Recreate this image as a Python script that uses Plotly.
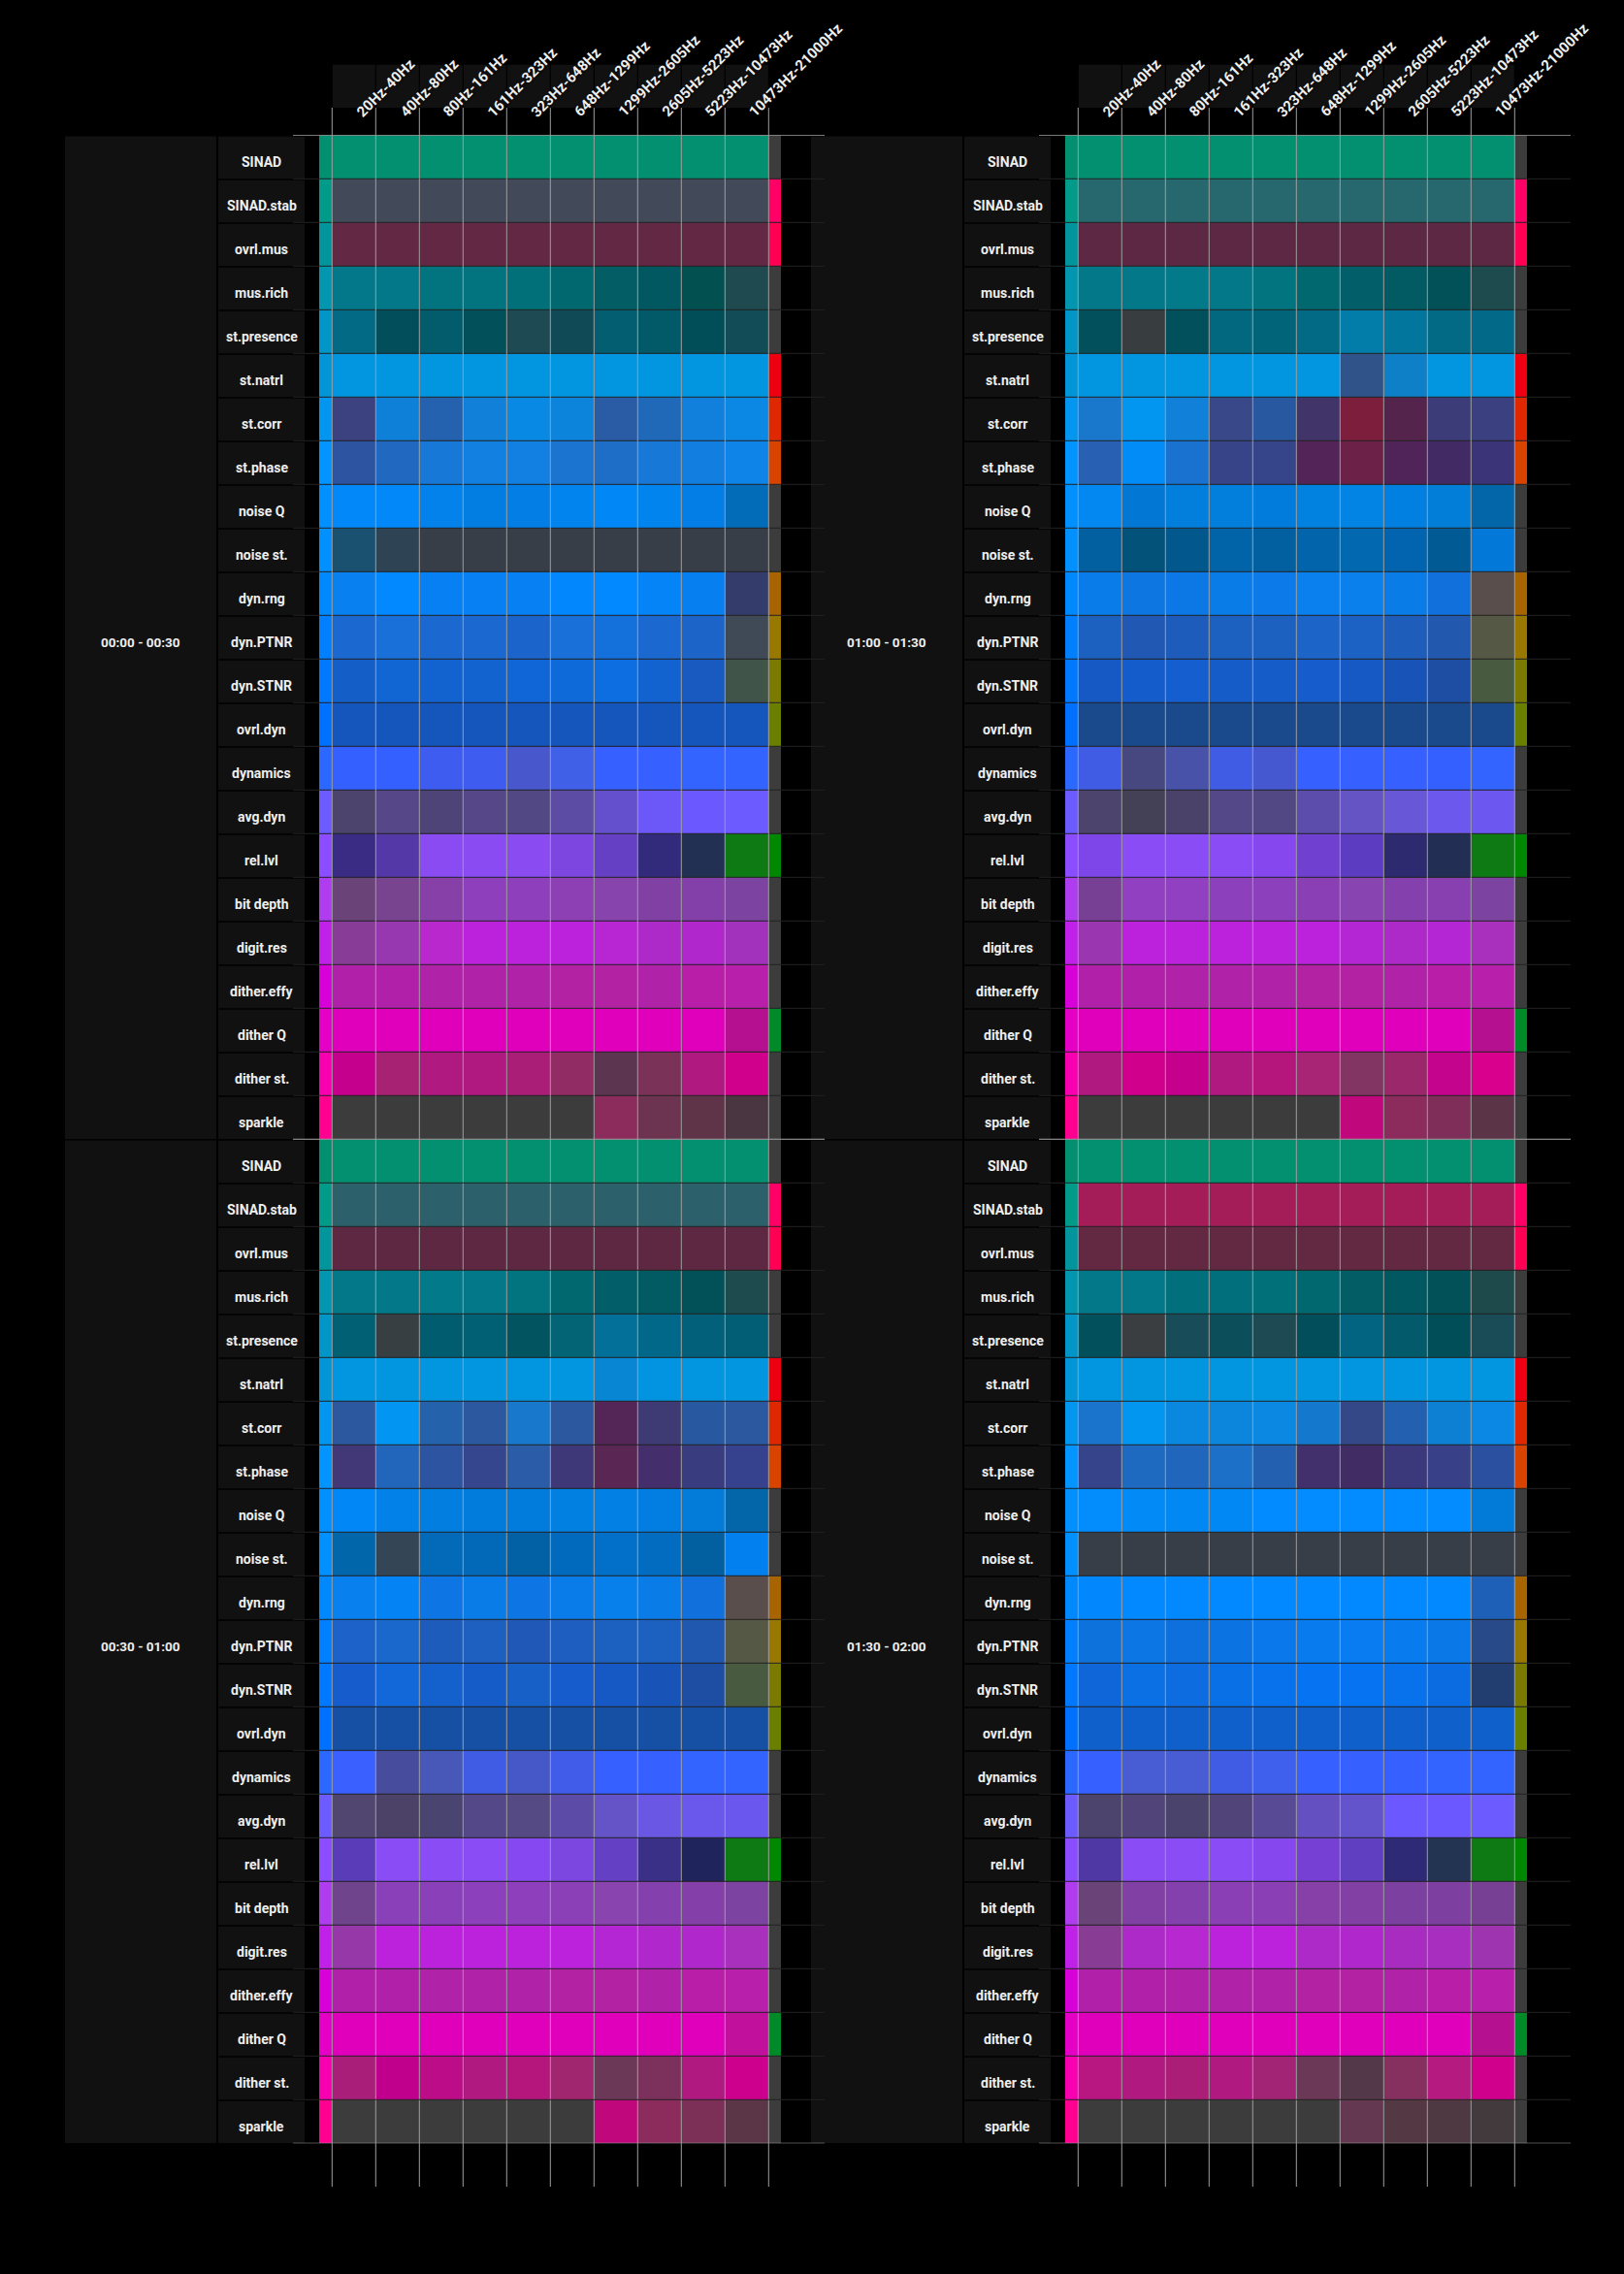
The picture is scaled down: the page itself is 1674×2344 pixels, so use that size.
import plotly.graph_objects as go

W, H = 1674, 2344

ROW_LABELS = ["SINAD", "SINAD.stab", "ovrl.mus", "mus.rich", "st.presence", "st.natrl",
              "st.corr", "st.phase", "noise Q", "noise st.", "dyn.rng", "dyn.PTNR",
              "dyn.STNR", "ovrl.dyn", "dynamics", "avg.dyn", "rel.lvl", "bit depth",
              "digit.res", "dither.effy", "dither Q", "dither st.", "sparkle"]

FREQ_LABELS = ["20Hz-40Hz", "40Hz-80Hz", "80Hz-161Hz", "161Hz-323Hz", "323Hz-648Hz",
               "648Hz-1299Hz", "1299Hz-2605Hz", "2605Hz-5223Hz", "5223Hz-10473Hz",
               "10473Hz-21000Hz"]

PANEL_TITLES = ["00:00 - 00:30", "00:30 - 01:00", "01:00 - 01:30", "01:30 - 02:00"]

# narrow leading strip (one colour per metric row)
ROW_HUE = ["029070", "029a88", "02969c", "0296b0", "0296c8", "0296d8", "0296f0", "0294ff",
           "0090ff", "0090ff", "0088ff", "0080ff", "0078ff", "0070ff", "2a68ff", "6c5cff",
           "8c4cff", "b03cf0", "c020e8", "d800d8", "e400c4", "f800b0", "ff0090"]

# trailing flag strip (one colour per metric row)
ROW_FLAG = ["3c3c3c", "ff0066", "ff0055", "3c3c3c", "3c3c3c", "ee0010", "e02800", "d84400",
            "3c3c3c", "3c3c3c", "a86400", "987800", "7a7a00", "6a7e00", "3c3c3c", "3c3c3c",
            "008800", "3c3c3c", "3c3c3c", "3c3c3c", "008a28", "3c3c3c", "3c3c3c"]

CELLS_0000 = [
    "029070 029070 029070 029070 029070 029070 029070 029070 029070 029070",
    "424a5a 424a5a 424a5a 424a5a 424a5a 424a5a 424a5a 424a5a 424a5a 424a5a",
    "632843 632843 632843 632843 632843 632843 632843 632843 632843 632843",
    "02788a 027888 027480 027480 027078 026870 025e64 025860 025050 1e4a50",
    "026a84 024e5a 025c6c 02505a 1e4a54 104a56 025e70 025a68 024e58 124c56",
    "0296e0 0296e0 0296e0 0296e0 0296e0 0296e0 0296e0 0296e0 0296e0 0296e0",
    "3c4280 0e80d8 2462b0 1080d8 088ae4 0c84dc 2a5ca6 2068b8 1080dc 0a88e4",
    "2c54a0 2068c0 1878d8 1280e0 1280e2 1a74d0 1e6ec8 1878d8 127ee0 0e84e8",
    "0288f8 0288f8 0282ea 027ee2 027ee4 0284ee 0288f6 0284ee 027ee6 026cb8",
    "1a5070 2e4455 383e48 383e48 383e48 383e48 383e48 383e48 383e48 383e48",
    "0880f0 0288ff 0680f2 0680f2 0680f2 0288fc 0288ff 0484f6 0680f0 343c6c",
    "1a68d0 1870d8 1a68d0 1a68d0 1a64cc 1870d8 1470da 1a68d0 1c64c8 404a56",
    "145ec8 1266d4 1262d0 1262d0 1066d6 0e6ad8 0c6ee0 1262d0 185ac0 40544a",
    "1456bc 1456bc 1456bc 1456bc 1456bc 1456bc 1456bc 1456bc 1456bc 1456bc",
    "3460ff 3460ff 3e5cf0 3e5cf0 4858cc 4060e8 3660ff 3660ff 3464ff 3464ff",
    "4c446c 564888 4e4478 564888 524884 5c4ca4 6450cc 6c58f8 6c58ff 6c5cff",
    "3a2c84 5438a8 8a4cf2 8a4cf2 8a4cf0 7e46e0 6640c4 322a7a 223054 0e7a14",
    "6a4478 784490 8640a8 8e40bc 8e40bc 8c40b4 8644ac 8040a4 8240a8 7c44a0",
    "883c98 9838b0 b828cc bc22dc bc22dc bc22dc b826d4 ae2ac8 b028cc a232bc",
    "b020a8 b020a8 b022a8 b022a8 b022a8 b422a4 b422a4 b022a8 b81ea8 b820ac",
    "e000bc e000bc e000bc e000bc e000bc e000bc e000bc e000bc e000bc b41090",
    "c4008c a82274 b01a80 b01a80 aa1e78 922c64 5c3650 7a3258 b01a80 d0008c",
    "3c3c3c 3c3c3c 3c3c3c 3c3c3c 3c3c3c 3c3c3c 8c2c5c 6c3450 603448 4a3640",
]

CELLS_0030 = [
    "029070 029070 029070 029070 029070 029070 029070 029070 029070 029070",
    "2c606a 2c606a 2c606a 2c606a 2c606a 2c606a 2c606a 2c606a 2c606a 2c606a",
    "5e2842 5e2842 5e2842 5e2842 5e2842 5e2842 5e2842 5e2842 5e2842 5e2842",
    "027888 027888 027a8a 027888 027480 026870 025e68 025a62 025058 1e4c4e",
    "026074 383f42 025c70 026074 025460 026474 027098 02688a 02607a 025e74",
    "0296e0 0296e0 0296e0 0296e0 0296e0 0296e0 0886d4 0294e0 0296e0 0296e0",
    "2c58a0 0296f2 2462ac 2c58a0 1878cc 2c58a0 542658 3e3a74 2858a0 2c58a0",
    "423878 2266bc 2c54a0 36468e 2a5ca8 3e3878 5a2654 442e6c 3a3c80 36428e",
    "0288f6 0282e8 027ee0 027cdc 027cdc 0280e2 0280e4 027ee2 027cd8 0266a8",
    "0266aa 344656 026ab8 0268b8 0260a4 026abc 0270c8 026cc0 0260a0 0280f0",
    "0880ee 0484f4 0e76e4 0a7ce8 0e76e4 0a7cea 0880ec 0a7ce8 1270dc 5a4e4c",
    "1c62c8 1a68cc 1e5cbc 1e60c0 2058b8 1e5ec0 1c60c0 1c60c0 2058b0 545844",
    "165ccc 1268d8 1460cc 165cc8 1660c8 165ccc 1658c4 1854b8 1e4ea4 485a40",
    "1650a4 1650a4 1650a4 1650a4 1650a4 1650a4 1650a4 1650a4 1650a4 1650a4",
    "3a60ff 484c9c 4858b8 405ce4 4658c8 405ce8 3660ff 3660ff 3464ff 3464ff",
    "504670 4c4268 4a4470 544888 564a84 5c4ca8 6454c8 6a58e4 6a58ec 6a58ee",
    "5a3cb8 8a4cf4 8a4cf4 8a4cf4 8648f0 7c46e0 6440c4 3a3088 20245c 0e7a14",
    "70448c 8a40b8 8a40b8 8c40bc 8e40bc 8c40b8 8a44b0 8440ac 8440a8 7c44a0",
    "9638a8 bc22dc bc22dc bc22dc bc22dc bc22dc b426d4 b028cc b028cc a830bc",
    "b020a8 b020a8 b022a8 b022a8 b022a8 b422a4 b422a4 b022a8 b81ea8 b820ac",
    "e000bc e000bc e000bc e000bc e000bc e000bc e000bc e000bc e000bc c0109c",
    "a81e78 c0008c bc0c88 b01a80 b4167c a02670 6c3858 7c305c b01a80 cc008c",
    "3c3c3c 3c3c3c 3c3c3c 3c3c3c 3c3c3c 3c3c3c c0087c 8c2c5c 7c3058 5a3646",
]

CELLS_0100 = [
    "029070 029070 029070 029070 029070 029070 029070 029070 029070 029070",
    "26686e 26686e 26686e 26686e 26686e 26686e 26686e 26686e 26686e 26686e",
    "5c2844 5c2844 5c2844 5c2844 5c2844 5c2844 5c2844 5c2844 5c2844 5c2844",
    "027888 027888 027a8a 027888 027480 026870 025e68 025a62 025058 1e4c4e",
    "02505c 383e40 02505c 026880 026478 026a84 027ca8 02769c 026a84 026a88",
    "0296e0 0296e0 0296e0 0296e0 0296e0 0296e0 30548a 0e80c8 0296e0 0296e0",
    "1a78cc 0296f0 1080d8 384888 2858a0 403468 7c1e3c 54244c 3c3c78 3a4080",
    "2860b4 028cf8 1a72d0 384488 36448a 522458 6c2248 502458 422a64 3c3478",
    "0288f0 0278d4 027edc 027edc 027cdc 0282e0 0284e4 0280e2 027ed8 0266a8",
    "0260a0 02527a 02588c 0264a8 0260a0 0264aa 0268b0 0264ae 025a94 0278d8",
    "0a7cea 0e76e0 0c78e6 0a7ce8 0c7ae8 0a80ee 0a80ec 0a7ce8 1270dc 5a4e4c",
    "1c60c0 2058b4 1e5cbc 1c60c0 1c60c0 1c64c8 1c62c4 1e5eba 2258ae 545844",
    "1658c4 145ccc 145ed0 165cc8 165cc8 165ccc 1658c4 1854b8 1e4ea4 485a40",
    "1a4a8c 1a4a8c 1a4a8c 1a4a8c 1a4a8c 1a4a8c 1a4a8c 1a4a8c 1a4a8c 1a4a8c",
    "405ce4 484880 4852a8 405ce4 4658d0 3660ff 3660ff 3660ff 3460ff 3464ff",
    "4c446c 444056 4a4268 544888 524884 5c4cac 6454c4 6858d8 6c58ec 6c58f0",
    "7e46e8 8a4cf4 8a4cf4 8a4cf4 8648ee 7040d0 5c3cc0 2e2a70 222e54 0e7a14",
    "784094 9040c0 9040c0 8c40bc 8c40bc 8a40b4 8844b0 8440ac 8840b0 7c44a0",
    "9a36b0 bc22dc bc22dc bc22dc bc22dc bc22dc b426d4 ae2ac8 b426d4 a830bc",
    "b020a8 b020a8 b022a8 b022a8 b022a8 b422a4 b422a4 b022a8 b81ea8 b820ac",
    "e000bc e000bc e000bc e000bc e000bc e000bc e000bc e000bc e000bc b41090",
    "b01a80 d0008c c4008c b01a80 b4167c a82474 823462 9c286c c4048c d8008c",
    "3c3c3c 3c3c3c 3c3c3c 3c3c3c 3c3c3c 3c3c3c c0087c 8c2c5c 7e2e58 5c3448",
]

CELLS_0130 = [
    "029070 029070 029070 029070 029070 029070 029070 029070 029070 029070",
    "a41c58 a41c58 a41c58 a41c58 a41c58 a41c58 a41c58 a41c58 a41c58 a41c58",
    "632842 632842 632842 632842 632842 632842 632842 632842 632842 632842",
    "027888 027888 02707c 02707c 027078 026870 025e64 025860 025058 1e4a4c",
    "02505c 3a3e40 184c58 0c4e5a 1e4a54 024e5a 026480 025a6a 024e58 1a4c58",
    "0296e0 0296e0 0296e0 0296e0 0296e0 0296e0 0296e0 0296e0 0296e0 0296e0",
    "1a74cc 0296f0 0a88e0 0c86dc 0a88e2 1478cc 344888 2460b0 0e80d4 0a88e4",
    "36448c 1e6ac0 2066bc 1c70c8 2460b0 42306c 422c64 3c387c 384088 2c50a0",
    "028cfc 028af6 0288f2 0288f4 028aff 028cff 028cff 028cff 028cff 027ad8",
    "383e48 383e48 383e48 383e48 383e48 383e48 383e48 383e48 383e48 383e48",
    "0288fc 0288ff 0288ff 0288ff 0288ff 0288ff 0288ff 0288ff 0288ff 1e60b8",
    "0e72dc 0c76e4 0e70dc 0c74e2 0a78ea 087cee 087cf0 087cee 0a78e6 284a88",
    "0e66d8 0a70e4 0c6ce0 0a70e6 0872ec 0674f2 0674f2 0872ec 0a6ce0 223e70",
    "1060cc 1060cc 1060cc 1060cc 1060cc 1060cc 1060cc 1060cc 1060cc 1060cc",
    "3660ff 485cd4 485cd4 405ce4 3e60ec 3660ff 3660ff 3660ff 3464ff 3464ff",
    "4c446c 504478 4a446c 504478 584a94 6450c0 6454cc 6c58ff 6c58ff 6c5cff",
    "5038a4 8a4cf4 8a4cf4 8a4cf4 8648ee 7640d4 6040c0 2e2a76 223452 0e7a14",
    "6a4478 8040a4 8440ac 8a40b4 8a40b4 8640a8 8240a4 7c40a0 7e40a0 784094",
    "883c94 ae2ac8 b828d0 bc22dc bc22dc ae2ac8 b028cc a82cc0 a82ec0 9e34b0",
    "b020a8 b020a8 b022a8 b022a8 b022a8 b422a4 b422a4 b022a8 b81ea8 b820ac",
    "e000bc e000bc e000bc e000bc e000bc e000bc e000bc e000bc e000bc b41090",
    "b81680 b01a80 aa1e78 b01a80 a22474 6c3858 523848 863060 b41a80 d0008c",
    "3c3c3c 3c3c3c 3c3c3c 3c3c3c 3c3c3c 3c3c3c 643850 543844 4e3842 423a3c",
]

PANEL_CELLS = [CELLS_0000, CELLS_0030, CELLS_0100, CELLS_0130]
# grid position of each panel: (column, row)
PANEL_POS = [(0, 0), (0, 1), (1, 0), (1, 1)]

# ---------------- geometry (pixels) ----------------
COL_OFF = 769.0
ROW_OFF = 1035.0
TOP = 139.3
ROW_H = 45.0
FX0 = 342.3          # left edge of first frequency column
UNIT = 45.0
STRIP_W = 0.296      # narrow leading strip width (units)
FLAG_W = 0.282       # trailing flag strip width (units)
RIGHT_END = 10.97    # end of black column (units)
NR = len(ROW_LABELS)
NC = len(FREQ_LABELS)

FONT = "Roboto, Liberation Sans Narrow, DejaVu Sans Condensed, sans-serif"
FS_ROW = 14
FS_TIME = 13.5
FS_HEAD = 15


def px(x):
    return x / W


def py(y):
    return 1 - y / H


# palette / colour index
palette, pal_idx = [], {}


def cidx(c):
    c = "#" + c
    if c not in pal_idx:
        pal_idx[c] = len(palette)
        palette.append(c)
    return pal_idx[c]


mats = []
for cells in PANEL_CELLS:
    m = []
    for i, row in enumerate(cells):
        vals = [ROW_HUE[i]] + row.split() + [ROW_FLAG[i]]
        m.append([cidx(v) for v in vals])
    mats.append(m)

n = len(palette)
colorscale = [[k / (n - 1), palette[k]] for k in range(n)]

x_edges = [-STRIP_W] + list(range(NC + 1)) + [NC + FLAG_W]
y_edges = list(range(NR + 1))

fig = go.Figure()
layout = dict(
    width=W, height=H, margin=dict(l=0, r=0, t=0, b=0),
    paper_bgcolor="#000000", plot_bgcolor="#000000", showlegend=False,
)
shapes, annotations = [], []

for p, (col, row) in enumerate(PANEL_POS):
    s = "" if p == 0 else str(p + 1)
    ox = col * COL_OFF
    oy = row * ROW_OFF
    fig.add_trace(go.Heatmap(
        x=x_edges, y=y_edges, z=mats[p], colorscale=colorscale, zmin=0, zmax=n - 1,
        showscale=False, hoverinfo="skip", xaxis="x" + s, yaxis="y" + s,
    ))
    x_left = FX0 + ox - STRIP_W * UNIT
    x_right = FX0 + ox + RIGHT_END * UNIT
    y_top = TOP + oy
    y_bot = TOP + oy + NR * ROW_H
    layout["xaxis" + s] = dict(domain=[px(x_left), px(x_right)], range=[-STRIP_W, RIGHT_END],
                               visible=False, fixedrange=True, anchor="y" + s)
    layout["yaxis" + s] = dict(domain=[py(y_bot), py(y_top)], range=[NR, 0],
                               visible=False, fixedrange=True, anchor="x" + s)

    # time-range box
    shapes.append(dict(type="rect", xref="paper", yref="y" + s, x0=px(67 + ox), x1=px(223 + ox),
                       y0=0.025, y1=NR, fillcolor="#111111", line_width=0, layer="below"))
    annotations.append(dict(xref="paper", yref="y" + s, x=px(145 + ox), y=NR / 2,
                            xanchor="center", yanchor="middle",
                            text="<b>" + PANEL_TITLES[p] + "</b>", showarrow=False, yshift=-5,
                            font=dict(family=FONT, size=FS_TIME, color="#eeeeee")))
    # row label boxes + labels
    for i, lab in enumerate(ROW_LABELS):
        shapes.append(dict(type="rect", xref="paper", yref="y" + s, x0=px(225 + ox), x1=px(314 + ox),
                           y0=i + 0.03, y1=i + 1, fillcolor="#111111", line_width=0, layer="below"))
        annotations.append(dict(xref="paper", yref="y" + s, x=px(269.5 + ox), y=i + 0.5,
                                xanchor="center", yanchor="middle",
                                text="<b>" + lab + "</b>", showarrow=False, yshift=-5,
                                font=dict(family=FONT, size=FS_ROW, color="#eeeeee")))
    # row separator lines
    for i in range(1, NR):
        shapes.append(dict(type="line", xref="paper", yref="y" + s, x0=px(302 + ox), x1=px(850 + ox),
                           y0=i, y1=i, line=dict(color="#222222", width=1), layer="above"))
    # top / bottom axis lines
    for yy in (0, NR):
        shapes.append(dict(type="line", xref="paper", yref="y" + s, x0=px(302 + ox), x1=px(850 + ox),
                           y0=yy, y1=yy, line=dict(color="#a0a0a0", width=1.2), layer="above"))

    if row == 0:
        # column header boxes and rotated labels
        for k, lab in enumerate(FREQ_LABELS):
            shapes.append(dict(type="rect", xref="x" + s, yref="paper", x0=k + 0.012, x1=k + 0.988,
                               y0=py(111), y1=py(66.7), fillcolor="#111111", line_width=0, layer="below"))
            annotations.append(dict(xref="x" + s, yref="paper", x=k + 0.5, y=py(127),
                                    xanchor="left", yanchor="bottom", textangle=-45, xshift=-4,
                                    text="<b>" + lab + "</b>", showarrow=False,
                                    font=dict(family=FONT, size=FS_HEAD, color="#eeeeee",
                                              shadow="1px 1px 2px #000000")))
        # vertical grid lines through both panels of this column
        for k in range(NC + 1):
            shapes.append(dict(type="line", xref="x" + s, yref="paper", x0=k, x1=k,
                               y0=py(111), y1=py(2254), line=dict(color="#9e9e9e", width=1),
                               layer="above"))

layout["shapes"] = shapes
layout["annotations"] = annotations
fig.update_layout(**layout)
fig.write_html("out.html")
